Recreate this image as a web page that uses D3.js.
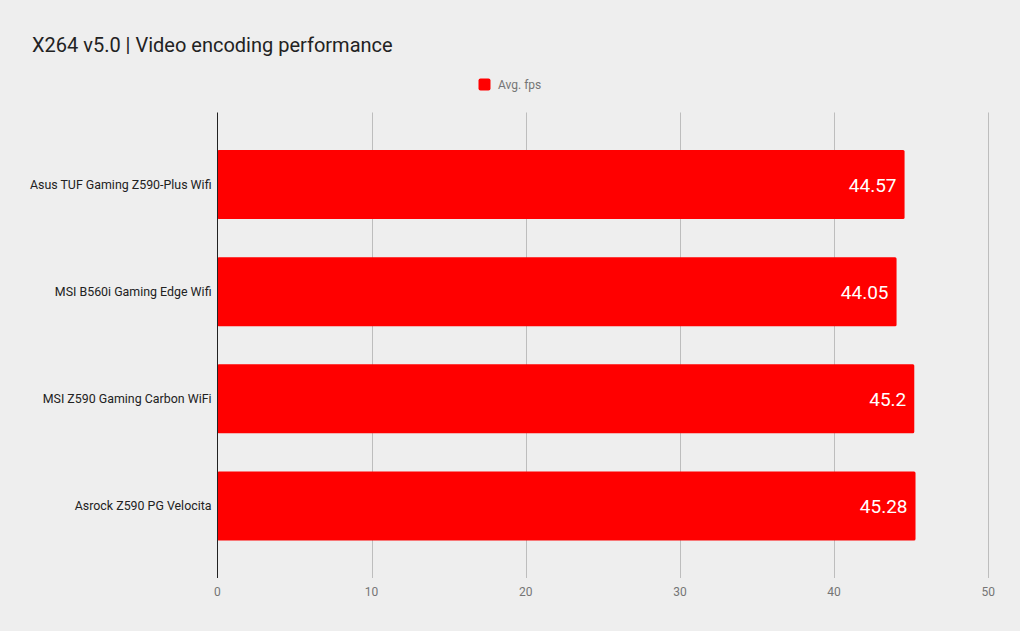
<!DOCTYPE html>
<html><head><meta charset="utf-8">
<script src="https://cdn.jsdelivr.net/npm/d3@7"></script>
<style>body{margin:0;background:#eeeeee;}svg{display:block;font-family:Roboto,sans-serif;}</style>
</head><body>
<svg id="chart" width="1020" height="631"></svg>
<script>
const title = "X264 v5.0 | Video encoding performance";
const seriesName = "Avg. fps";
const categories = ["Asus TUF Gaming Z590-Plus Wifi","MSI B560i Gaming Edge Wifi","MSI Z590 Gaming Carbon WiFi","Asrock Z590 PG Velocita"];
const values = [44.57, 44.05, 45.2, 45.28];
const valueLabels = ["44.57","44.05","45.2","45.28"];
const xTicks = [0,10,20,30,40,50];

(function(){
const svg = d3.select("#chart");
svg.append("rect").attr("width",1020).attr("height",631).attr("fill","#eeeeee");

const pLeft = 217.3, pRight = 988.3, pTop = 112.5, pBottom = 578;
const x = d3.scaleLinear().domain([0,50]).range([pLeft,pRight]);
const y = d3.scaleBand().domain(categories).range([pTop,pBottom]).paddingInner(0.355).paddingOuter(0.35);

svg.append("text").attr("x",32).attr("y",51.5).attr("font-size",20).attr("fill","#222").text(title);

// legend
svg.append("rect").attr("x",478.5).attr("y",78.5).attr("width",12).attr("height",12).attr("rx",2).attr("fill","#ff0000");
svg.append("text").attr("x",498).attr("y",89).attr("font-size",12).attr("fill","#757575").text(seriesName);

// gridlines
svg.append("g").selectAll("line").data(xTicks.filter(d=>d>0)).join("line")
  .attr("x1",d=>Math.round(x(d))+0.5).attr("x2",d=>Math.round(x(d))+0.5)
  .attr("y1",pTop).attr("y2",pBottom).attr("stroke","#bdbdbd").attr("stroke-width",1);

// bars
svg.append("g").selectAll("rect").data(categories).join("rect")
  .attr("x",x(0)).attr("y",d=>y(d)).attr("height",y.bandwidth())
  .attr("width",(d,i)=>x(values[i])-x(0)).attr("rx",1.5).attr("fill","#ff0000");

// value labels
svg.append("g").selectAll("text").data(categories).join("text")
  .attr("x",(d,i)=>x(values[i])-8).attr("y",d=>y(d)+y.bandwidth()/2+7)
  .attr("text-anchor","end").attr("font-size",19).attr("fill","#ffffff")
  .text((d,i)=>valueLabels[i]);

// axis line at 0
svg.append("line").attr("x1",Math.round(x(0))+0.5).attr("x2",Math.round(x(0))+0.5)
  .attr("y1",pTop).attr("y2",pBottom).attr("stroke","#222").attr("stroke-width",1);

// x tick labels
svg.append("g").selectAll("text").data(xTicks).join("text")
  .attr("x",d=>x(d)).attr("y",596).attr("text-anchor","middle")
  .attr("font-size",12).attr("fill","#757575").text(d=>d);

// category labels
svg.append("g").selectAll("text").data(categories).join("text")
  .attr("x",211.5).attr("y",d=>y(d)+y.bandwidth()/2+4.5).attr("text-anchor","end")
  .attr("font-size",12.4).attr("fill","#222").text(d=>d);
})();
</script>
</body></html>
